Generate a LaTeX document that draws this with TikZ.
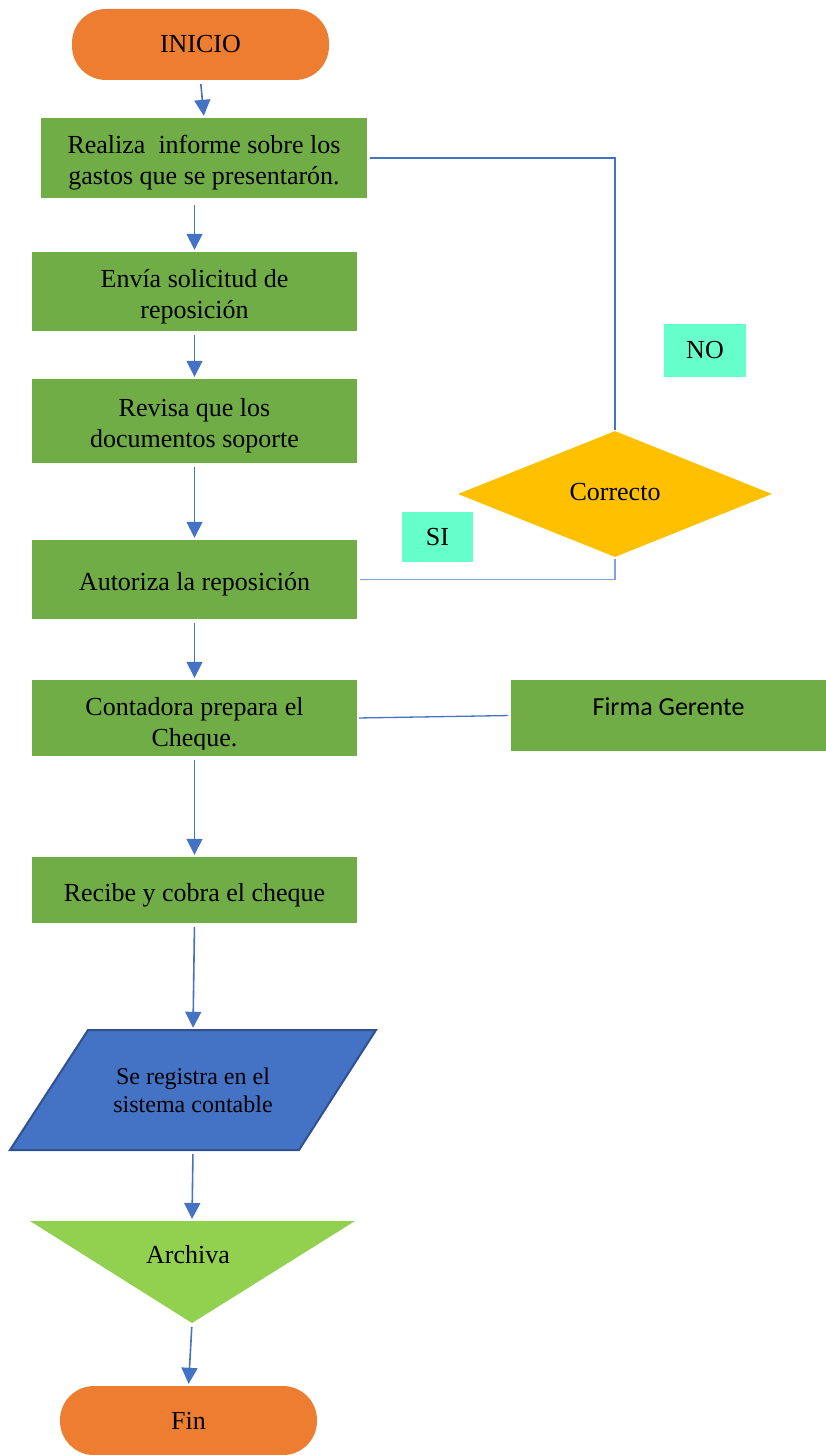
\documentclass[tikz,border=0pt]{standalone}
\usepackage{fontspec}
\setmainfont{Liberation Serif}
\newfontfamily\calibrifont{Carlito}
\usetikzlibrary{arrows.meta,shapes.geometric,calc}

\definecolor{termorange}{HTML}{ED7D31}
\definecolor{boxgreen}{HTML}{70AD47}
\definecolor{lineblue}{HTML}{4472C4}
\definecolor{lightline}{HTML}{7FA3DB}
\definecolor{decisionyellow}{HTML}{FFC000}
\definecolor{tagcyan}{HTML}{66FFCC}
\definecolor{ioblue}{HTML}{4472C4}
\definecolor{ioborder}{HTML}{2F528F}
\definecolor{archgreen}{HTML}{92D050}

% tall invisible strut: sets a box text a little below its centre
\newcommand{\lowerstrut}{\rule{0pt}{28pt}}

\begin{document}
\begin{tikzpicture}[x=1pt,y=-1pt,
  txt/.style={font=\fontsize{26}{31}\selectfont, text=black, align=center, inner sep=0pt},
  smalltxt/.style={font=\fontsize{24}{28}\selectfont, text=black, align=center, inner sep=0pt},
  stepbox/.style={txt, fill=boxgreen, minimum width=325pt},
  terminal/.style={txt, fill=termorange, rounded corners=34pt, minimum width=257pt},
  decision/.style={txt, diamond, fill=decisionyellow},
  tag/.style={txt, fill=tagcyan},
  flow/.style={draw=lineblue, line width=1.6pt, -{Triangle[length=16pt,width=16pt]},
               shorten <=4pt, shorten >=2pt},
  link/.style={draw=lineblue, line width=1.4pt}
]
\useasboundingbox (0,0) rectangle (826,1455);

% terminals and process boxes
\node[terminal, minimum height=71pt] (inicio) at (200.5,44.5) {INICIO};
\node[stepbox, minimum width=326pt, minimum height=80pt] (informe) at (204,158)
  {\lowerstrut Realiza\ \ informe sobre los\\gastos que se presentarón.};
\node[stepbox, minimum height=79pt] (envia) at (194.5,291.5) {\lowerstrut Envía solicitud de\\reposición};
\node[stepbox, minimum height=84pt] (revisa) at (194.5,421) {\lowerstrut Revisa que los\\documentos soporte};
\node[stepbox, minimum height=79pt] (autoriza) at (194.5,579.5) {\lowerstrut Autoriza la reposición};
\node[txt, fill=boxgreen, minimum width=325pt, minimum height=76pt,
  path picture={
    \clip (path picture bounding box.north west) rectangle ([yshift=7pt]path picture bounding box.south east);
    \node[txt] (chequetext) at ([yshift=-7pt]path picture bounding box.center) {Contadora prepara el\\Cheque.};
  }] (cheque) at (194.5,718) {};
\node[txt, fill=boxgreen, minimum width=315pt, minimum height=71pt,
  font=\calibrifont\fontsize{26}{31}\selectfont, text depth=17pt] (firma) at (668.5,715.5) {Firma Gerente};
\node[stepbox, minimum height=66pt] (recibe) at (194.5,890) {\lowerstrut Recibe y cobra el cheque};

% decision and its answer tags
\node[decision, minimum width=314pt, minimum height=126pt] (correcto) at (615,494) {\raisebox{4pt}{Correcto}};
\node[tag, minimum width=82pt, minimum height=53pt] (no) at (705,350.5) {NO};
\node[tag, minimum width=71pt, minimum height=50pt] (si) at (437.5,537) {\raisebox{-3pt}{SI}};

% input/output parallelogram
\fill[ioblue, draw=ioborder, line width=2pt, line join=miter]
  (88,1030) -- (376,1030) -- (299,1150) -- (10,1150) -- cycle;
\node[smalltxt, minimum width=200pt, minimum height=120pt] (registro) at (193,1090)
  {Se registra en el\\sistema contable};

% archive (inverted triangle)
\fill[archgreen] (30,1221) -- (355,1221) -- (192,1323) -- cycle;
\coordinate (archtop) at (192,1221);
\coordinate (archtip) at (192,1323);
\node[txt] (archiva) at (188,1255) {Archiva};

\node[terminal, minimum height=69pt] (fin) at (188.5,1420.5) {\raisebox{-3pt}{Fin}};

% main flow
\draw[flow] (inicio.south) -- (informe.north);
\draw[flow, shorten <=7pt] (informe.south -| envia.north) -- (envia.north);
\draw[flow] (envia.south) -- (revisa.north);
\draw[flow] (revisa.south) -- (autoriza.north);
\draw[flow] (autoriza.south) -- (cheque.north);
\draw[flow] (cheque.south) -- (recibe.north);
\draw[flow] (recibe.south) -- (registro.north);
\draw[flow] (registro.south) -- (archtop);
\draw[flow] (archtip) -- (fin.north);

% decision branches
\draw[link, line width=2pt, shorten <=3pt, shorten >=1pt] (informe.east) -| (correcto.north);
\draw[link, draw=lightline, line width=1.6pt, shorten <=2pt, shorten >=3pt] (correcto.south) |- (autoriza.east);
\draw[link, line width=1.3pt, shorten <=2pt, shorten >=3pt] (cheque.east) -- (firma.west);
\end{tikzpicture}
\end{document}
